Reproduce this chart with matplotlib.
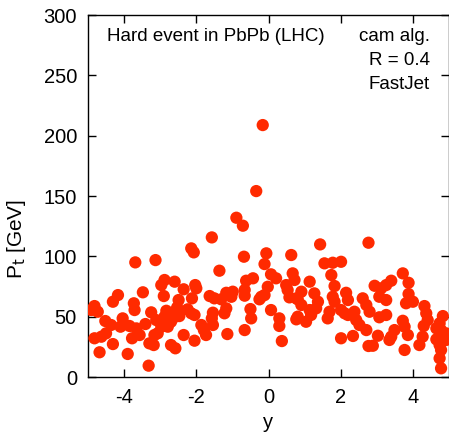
import matplotlib
matplotlib.use('Agg')
import matplotlib.pyplot as plt

plt.rcParams['font.family'] = ['Liberation Sans', 'DejaVu Sans']
plt.rcParams['axes.unicode_minus'] = False

# rapidity and transverse momentum of the jets
rap = [-3.69, -3.13, -3.48, -2.97, -4.17, -4.31, -4.82, -4.73, -3.73, -3.71,
       -4.91, -4.52, -4.04, -3.25, -4.10, -3.85, -3.66, -3.41, -4.50, -4.82,
       -4.63, -3.78, -3.57, -4.31, -3.30, -3.16, -4.68, -3.90, -3.32, -3.18,
       -4.36, -2.88, -2.60, -2.35, -2.90, -2.49, -2.53, -2.56, -2.83, -2.88,
       -2.24, -2.14, -2.05, -2.47, -2.65, -3.11, -2.97, -3.07, -2.70, -2.79,
       -2.35, -2.70, -2.58, -2.14, -2.07, -1.57, -1.36, -2.03, -2.00, -2.12,
       -1.63, -1.50, -1.31, -1.17, -1.54, -1.57, -1.17, -1.22, -1.86, -1.79,
       -1.73, -1.54, -1.14, -2.05,
       -0.16, -0.34, -0.89, -0.71, -0.68, -0.06, -0.11, 0.63, -0.43, -0.62,
       0.07, 0.21, 0.67, 0.72, 0.49, 0.53, -0.02, -0.99, -1.03, -0.66,
       -0.20, -0.11, -0.25, 0.58, 0.81, -0.50, 0.07, -0.48, 0.30, 0.30,
       0.77, -0.66, 0.37, -0.66,
       1.43, 2.77, 1.55, 1.78, 2.01, 1.74, 1.14, 1.83, 2.15, 0.91,
       0.77, 1.27, 1.37, 1.32, 1.78, 1.83, 2.20, 2.61, 2.71, 0.91,
       1.14, 1.18, 1.69, 1.64, 2.01, 2.11, 2.20, 2.38, 2.43, 2.52,
       0.81, 1.04, 2.71, 2.01, 2.34, 2.77,
       3.72, 3.88, 3.40, 3.26, 3.12, 2.94, 3.07, 3.26, 3.88, 3.81,
       4.00, 2.80, 3.26, 3.07, 4.32, 4.37, 4.41, 4.30, 3.72, 3.77,
       3.86, 4.83, 4.74, 4.65, 4.78, 3.49, 3.40, 3.35, 3.03, 4.27,
       4.18, 4.65, 4.74, 4.78, 2.89, 3.77, 4.74, 4.78, 4.92, 4.92]
pt = [95.0, 96.9, 70.2, 76.2, 67.9, 62.4, 58.8, 54.1, 61.1, 55.5,
      55.5, 46.4, 48.6, 53.6, 41.7, 42.3, 40.3, 43.9, 36.2, 32.1,
      33.4, 32.1, 34.8, 27.3, 27.9, 34.8, 20.5, 19.1, 9.4, 26.5,
      43.1, 80.4, 79.0, 72.7, 67.1, 63.8, 57.7, 54.9, 54.9, 50.0,
      56.1, 52.8, 51.4, 50.5, 48.6, 47.2, 41.7, 36.2, 45.8, 41.7,
      34.8, 26.5, 23.8, 106.6, 103.3, 115.7, 88.1, 76.2, 73.5, 65.2,
      67.1, 65.2, 64.4, 69.8, 53.3, 48.6, 56.9, 52.8, 43.1, 38.9,
      34.8, 43.1, 35.6, 30.1,
      208.8, 154.1, 132.0, 125.4, 99.7, 102.5, 93.6, 101.1, 81.8, 79.8,
      85.1, 81.8, 85.9, 80.4, 76.2, 72.1, 74.8, 70.7, 66.5, 67.4,
      66.5, 67.9, 64.4, 66.0, 64.4, 56.3, 55.5, 48.6, 48.6, 42.3,
      47.8, 38.9, 29.8, 72.1,
      109.9, 111.3, 94.2, 94.7, 95.5, 84.5, 79.0, 75.4, 69.8, 70.7,
      65.2, 69.3, 62.4, 56.9, 66.5, 62.4, 63.8, 65.2, 59.7, 59.7,
      55.5, 51.4, 54.1, 48.6, 55.5, 52.8, 51.4, 54.1, 47.2, 43.1,
      50.0, 45.8, 38.9, 32.1, 34.0, 25.7,
      85.9, 78.1, 79.8, 76.2, 73.5, 75.6, 66.5, 63.8, 68.8, 61.1,
      62.4, 54.1, 51.4, 49.5, 58.8, 52.8, 47.2, 42.3, 46.6, 41.7,
      34.8, 50.5, 44.5, 40.3, 38.9, 38.9, 33.4, 30.7, 34.2, 33.4,
      26.5, 31.2, 26.5, 22.4, 25.9, 22.4, 15.5, 7.2, 30.7, 36.2]

fig = plt.figure(figsize=(4.49, 4.33), dpi=100)
ax = fig.add_axes([0.196, 0.1293, 0.804, 0.836])

ax.scatter(rap, pt, s=78, color='#ff2a00', edgecolors='none', zorder=3)

ax.set_xlim(-5, 5)
ax.set_ylim(0, 300)
ax.set_xticks([-4, -2, 0, 2, 4])
ax.set_yticks(range(0, 301, 50))
ax.tick_params(direction='in', length=6, width=1, top=True, right=True,
               labelsize=14.5)
ax.tick_params(axis='x', pad=8)
ax.tick_params(axis='y', pad=8)
for s in ax.spines.values():
    s.set_linewidth(1)

ax.set_xlabel('y', fontsize=14.5, labelpad=4)
ax.set_ylabel(r'P$_{\rm t}$ [GeV]', fontsize=15)
# gnuplot puts the y label a bit below the middle
ax.yaxis.set_label_coords(-0.165, 0.38)

ax.text(0.053, 0.928, 'Hard event in PbPb (LHC)', transform=ax.transAxes,
        fontsize=13.5, ha='left', va='baseline')
ax.text(0.947, 0.928, 'cam alg.', transform=ax.transAxes,
        fontsize=13.5, ha='right', va='baseline')
ax.text(0.947, 0.862, 'R = 0.4', transform=ax.transAxes,
        fontsize=13.5, ha='right', va='baseline')
ax.text(0.947, 0.796, 'FastJet', transform=ax.transAxes,
        fontsize=13.5, ha='right', va='baseline')

fig.savefig('out.png', dpi=100)
